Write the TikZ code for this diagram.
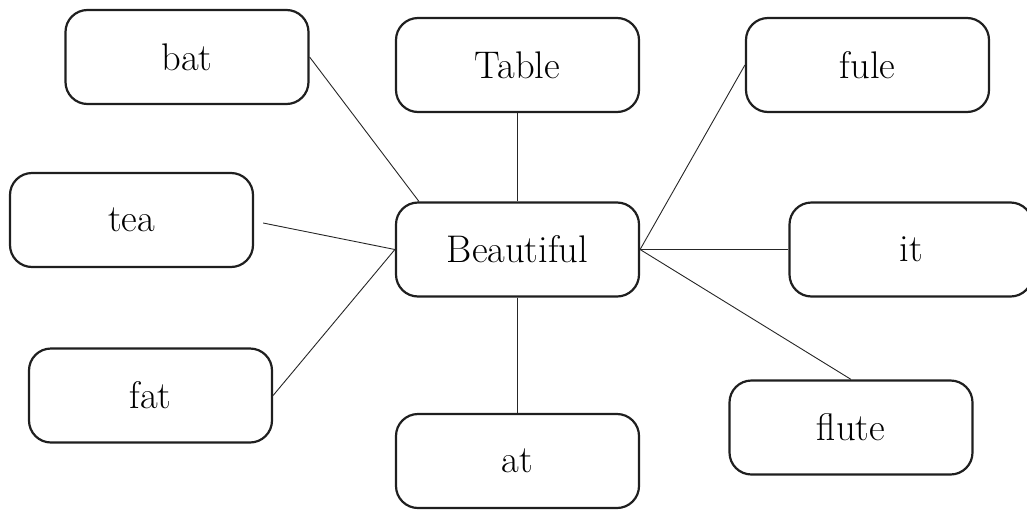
\documentclass[tikz,border=0pt]{standalone}
\usetikzlibrary{positioning}
\begin{document}
\begin{tikzpicture}[x=1pt,y=-1pt,
  wordbox/.style={draw=black!88, line width=2.2pt, rounded corners=22pt, minimum width=243pt, minimum height=94pt, inner sep=0pt, font=\fontsize{38.5}{44}\selectfont},
  link/.style={draw=black!85, line width=0.9pt}]
\useasboundingbox (0,0) rectangle (1027,509);
\clip (0,0) rectangle (1027,509);
\node[wordbox] (bat) at (187,57) {bat};
\node[wordbox] (table) at (517.5,65) {Table};
\node[wordbox] (fule) at (867.5,65) {fule};
\node[wordbox] (tea) at (131.5,220) {tea};
\node[wordbox] (beau) at (517.5,249.5) {Beautiful};
\node[wordbox] (it) at (911,249.5) {it};
\node[wordbox] (fat) at (150.5,395.5) {fat};
\node[wordbox] (flute) at (851,427.5) {flute};
\node[wordbox] (at) at (517.5,461) {at};
\draw[link] (bat.east) -- ([xshift=24pt]beau.north west);
\draw[link] (table.south) -- (beau.north);
\draw[link] (fule.west) -- (beau.east);
\draw[link] ([xshift=9pt,yshift=-3pt]tea.east) -- (beau.west);
\draw[link] (fat.east) -- (beau.west);
\draw[link] (beau.east) -- (it.west);
\draw[link] (beau.east) -- (flute.north);
\draw[link] (beau.south) -- (at.north);
\end{tikzpicture}
\end{document}
